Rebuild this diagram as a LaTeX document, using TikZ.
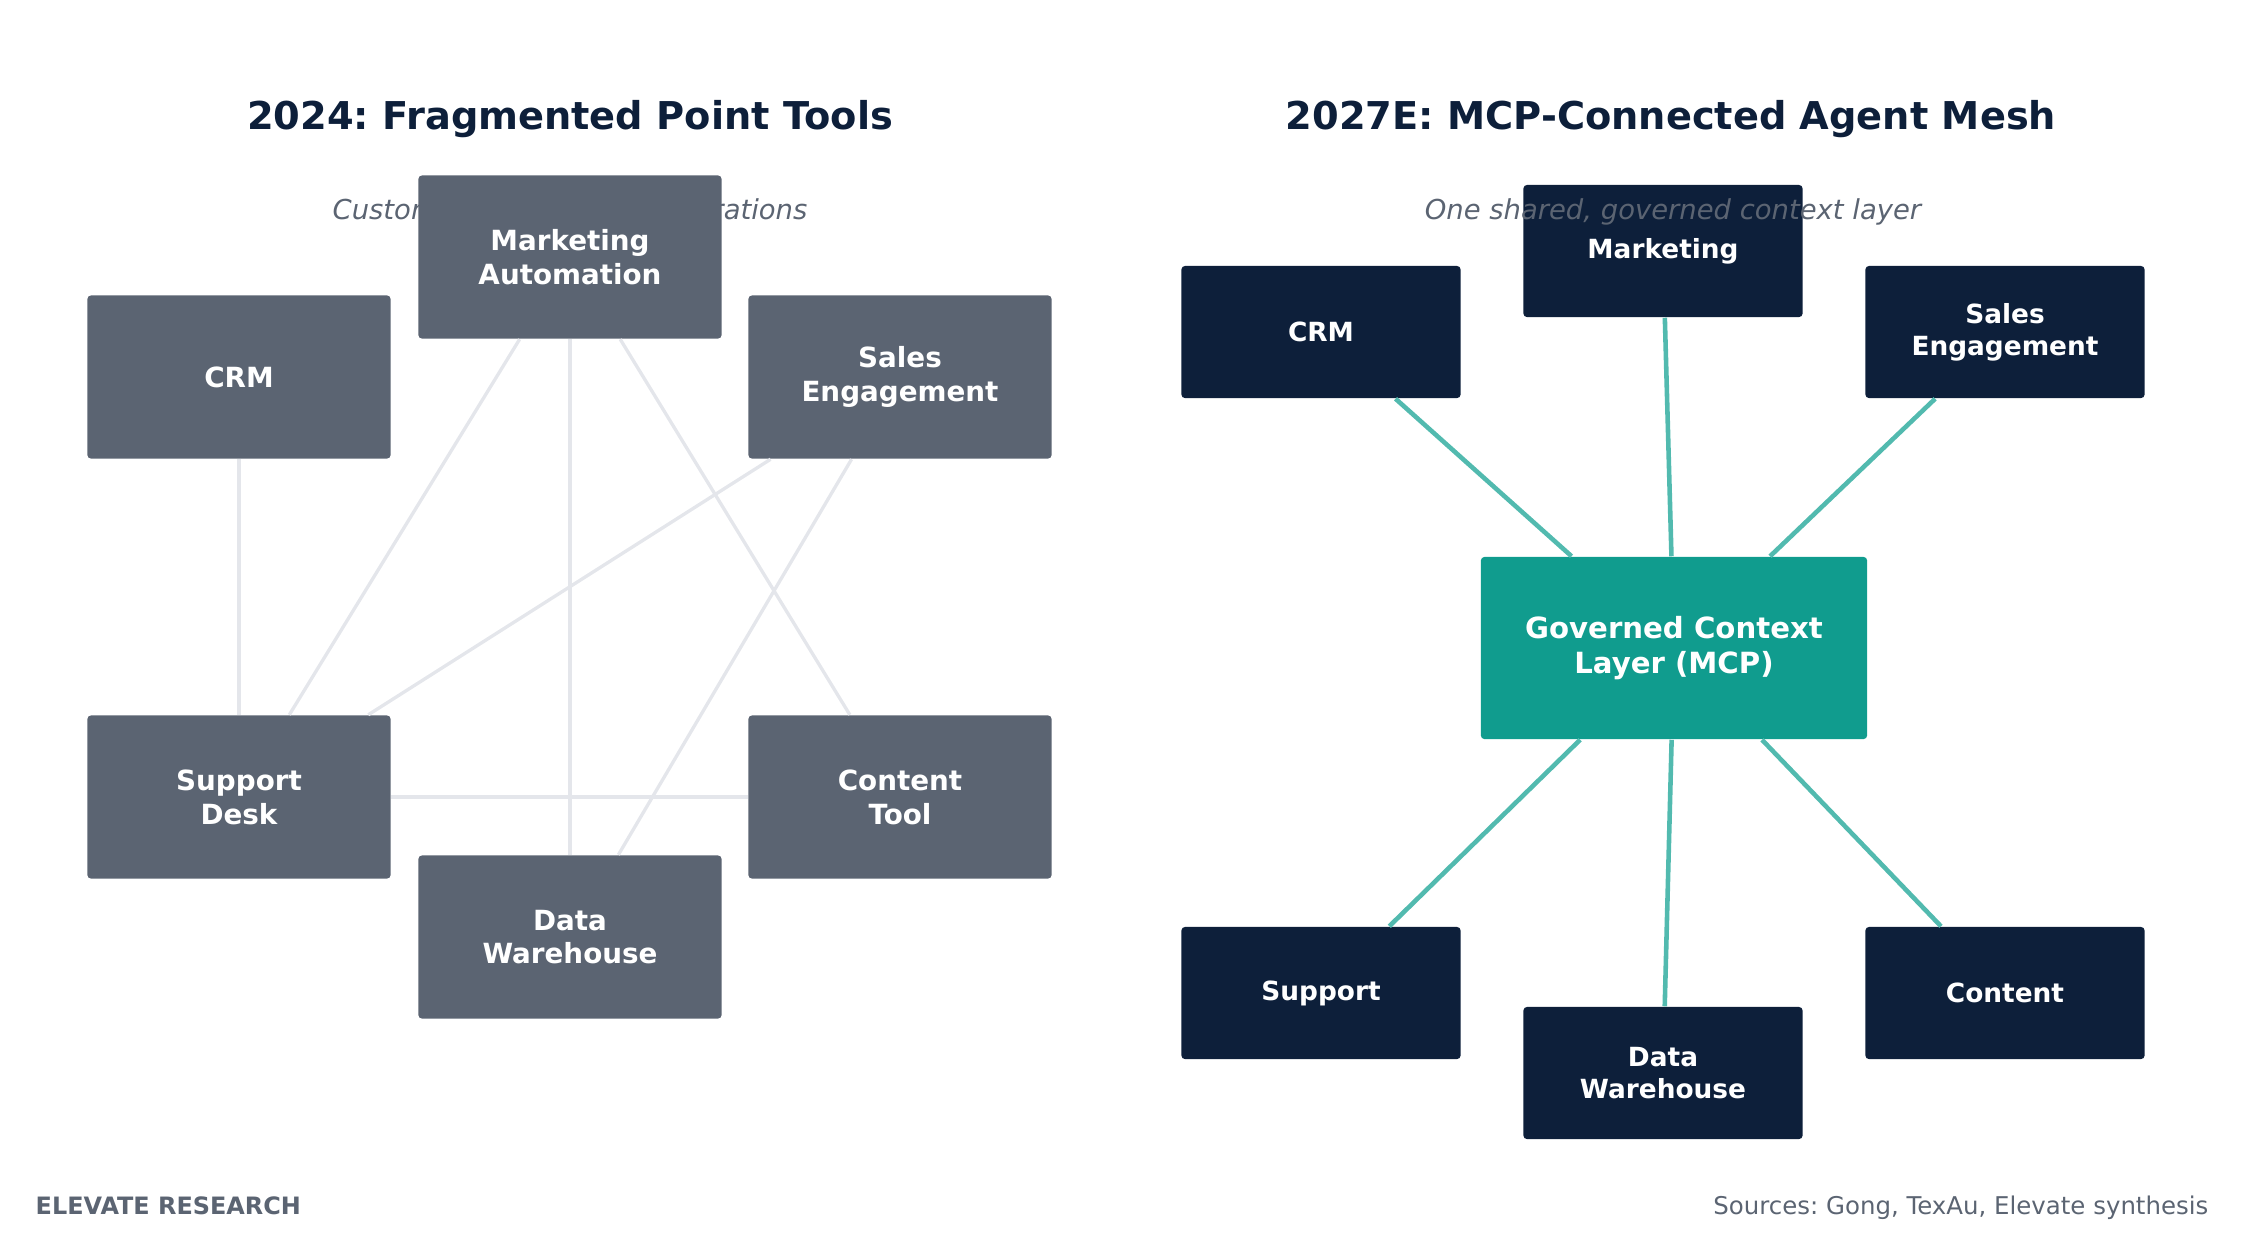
\documentclass[tikz,border=0pt]{standalone}
\usepackage{fontspec}
\setmainfont{DejaVu Sans}
\frenchspacing
\definecolor{navy}{HTML}{0D1F3A}
\definecolor{slate}{HTML}{5B6472}
\definecolor{mcpteal}{HTML}{109C8E}
\definecolor{spoketeal}{HTML}{52BAAF}
\definecolor{linegray}{HTML}{E4E6EB}
\begin{document}
\begin{tikzpicture}[x=0.01cm,y=-0.01cm,inner sep=0,
		tool/.style={fill=slate,rounded corners=1pt,minimum width=3.03cm,minimum height=1.63cm,align=center,text=white,font=\fontsize{7.9}{9.6}\selectfont\bfseries},
		agent/.style={fill=navy,rounded corners=1pt,minimum width=2.79cm,minimum height=1.32cm,align=center,text=white,font=\fontsize{7.5}{9.1}\selectfont\bfseries},
		hub/.style={fill=mcpteal,rounded corners=1pt,minimum width=3.86cm,minimum height=1.82cm,align=center,text=white,font=\fontsize{8.3}{10.2}\selectfont\bfseries},
		p2p/.style={draw=linegray,line width=0.95pt},
		spoke/.style={draw=spoketeal,line width=1.3pt},
		title/.style={anchor=base,text=navy,font=\fontsize{10.9}{13}\selectfont\bfseries},
		subtitle/.style={anchor=base,text=slate,font=\fontsize{7.8}{9.5}\selectfont\itshape},
		foot/.style={text=slate,font=\fontsize{6.95}{8}\selectfont}]
		\useasboundingbox (0,0) rectangle (2244,1232);
		% left panel
		\node[title] (t1) at (570,129) {2024: Fragmented Point Tools};
		\node[subtitle] (s1) at (570,219) {Custom point-to-point integrations};
		\node[tool] (crm1) at (239,377) {CRM};
		\node[tool] (mkt1) at (570,257) {Marketing\\Automation};
		\node[tool] (sales1) at (900,377) {Sales\\Engagement};
		\node[tool] (sup1) at (239,797) {Support\\Desk};
		\node[tool] (cont1) at (900,797) {Content\\Tool};
		\node[tool] (dw1) at (570,937) {Data\\Warehouse};
		\draw[p2p] (crm1)--(sup1);
		\draw[p2p] (mkt1)--(sup1);
		\draw[p2p] (mkt1)--(dw1);
		\draw[p2p] (mkt1)--(cont1);
		\draw[p2p] (sales1)--(sup1);
		\draw[p2p] (sales1)--(dw1);
		\draw[p2p] (sup1)--(cont1);
		% right panel
		\node[title] (t2) at (1671,129) {2027E: MCP-Connected Agent Mesh};
		\node[hub] (mcp) at (1674,648) {Governed Context\\Layer (MCP)};
		\node[agent] (crm2) at (1321,332) {CRM};
		\node[agent] (mkt2) at (1663,251) {Marketing};
		\node[agent] (sales2) at (2005,332) {Sales\\Engagement};
		\node[agent] (sup2) at (1321,993) {Support};
		\node[agent] (dw2) at (1663,1073) {Data\\Warehouse};
		\node[agent] (cont2) at (2005,993) {Content};
		\foreach \n in {crm2,mkt2,sales2,sup2,dw2,cont2}
			\draw[spoke] (mcp)--(\n);
		% subtitle sits on top of the marketing box here
		\node[subtitle] (s2) at (1673,219) {One shared, governed context layer};
		% footer
		\node[foot,anchor=base west,font=\fontsize{6.8}{8}\selectfont\bfseries] (brand) at (35,1214) {ELEVATE RESEARCH};
		\node[foot,anchor=base east] (src) at (2209,1214) {Sources: Gong, TexAu, Elevate synthesis};
	\end{tikzpicture}
\end{document}
